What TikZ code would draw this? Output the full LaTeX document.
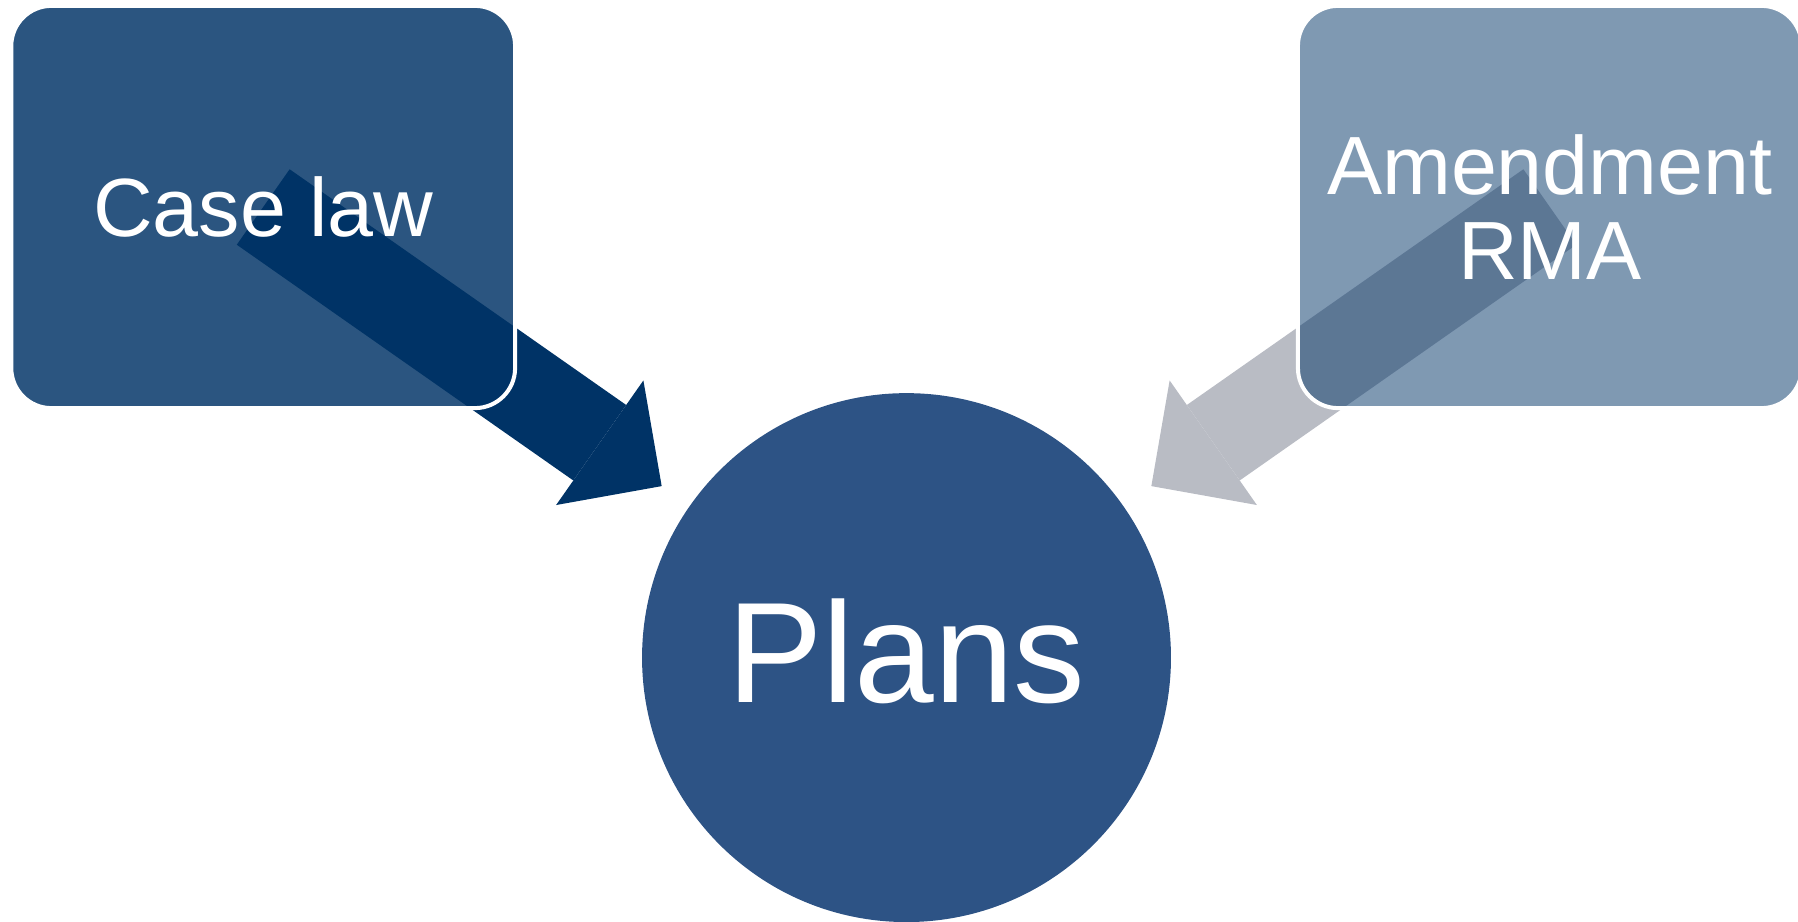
\documentclass[tikz,border=0pt]{standalone}
\usepackage{fontspec}
\setmainfont{Liberation Sans}
\usetikzlibrary{arrows.meta}
\usetikzlibrary{backgrounds}

\definecolor{CaseNavy}{RGB}{0,51,102}
\definecolor{ArrowGrey}{RGB}{185,188,196}
\definecolor{PlansBlue}{RGB}{45,83,133}

\begin{document}
\begin{tikzpicture}[x = 0.01cm, y = -0.01cm]
\tikzstyle{BoxStyle}=[shape = rectangle,
                      rounded corners = 11.4pt,
                      minimum width = 5.035cm,
                      minimum height = 4.02cm,
                      inner sep = 0pt,
                      draw = white, line width = 1.14pt,
                      fill = CaseNavy, text = white, text opacity = 1,
                      align = center,
                      font = \fontsize{23.5}{24.2}\selectfont]
\tikzstyle{ArrowStyle}=[line width = 26.2pt,
                        shorten > = 9.6pt,
                        -{Triangle[width = 43.25pt, length = 21.5pt, line width = 0pt]}]
\useasboundingbox (0,0) rectangle (1798,922);
\node[BoxStyle, fill opacity = 0.83] (caselaw) at (263.2,207) {Case law};
\node[BoxStyle, fill opacity = 0.5] (amendment) at (1549.8,207) {Amendment\\RMA};
\node[shape = circle, minimum size = 5.286cm, inner sep = 0pt, fill = PlansBlue] (plans) at (906.5,657.6) {};
\node[text = white, font = \fontsize{40.7}{48}\selectfont] (planslabel) at ([yshift = 1.9pt]plans.center) {Plans};
\begin{scope}[on background layer]
\draw[ArrowStyle, CaseNavy] (caselaw.center) -- (plans);
\draw[ArrowStyle, ArrowGrey] (amendment.center) -- (plans);
\end{scope}
\end{tikzpicture}
\end{document}
